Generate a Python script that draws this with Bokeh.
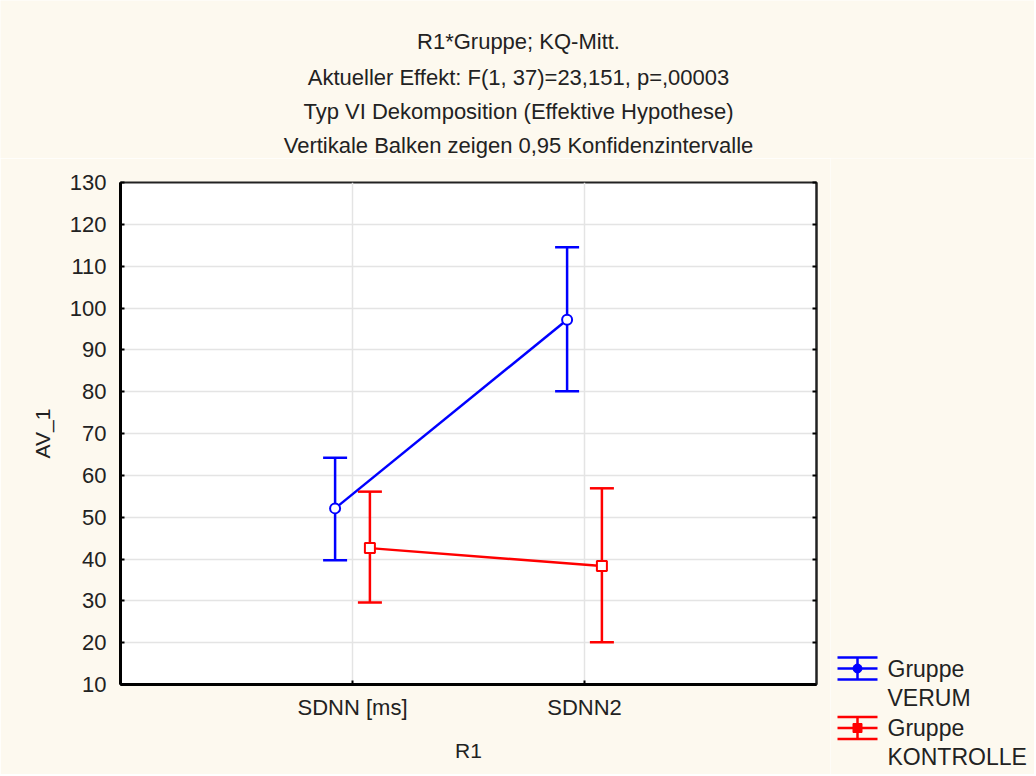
import numpy as np
from bokeh.plotting import figure
from bokeh.models import (ColumnDataSource, Range1d, FixedTicker, Whisker, TeeHead,
                          LinearAxis)
from bokeh.layouts import row, column
from bokeh.core.properties import value
from bokeh.embed import file_html
from bokeh.resources import INLINE

# ---- data ----
categories = ["SDNN [ms]", "SDNN2"]
verum_mean = [52.1, 97.2]
verum_lower = [39.7, 80.1]
verum_upper = [64.2, 114.5]
kontrolle_mean = [42.6, 38.3]
kontrolle_lower = [29.6, 20.1]
kontrolle_upper = [56.1, 56.9]
y_ticks = [10, 20, 30, 40, 50, 60, 70, 80, 90, 100, 110, 120, 130]
title_lines = [
    "R1*Gruppe; KQ-Mitt.",
    "Aktueller Effekt: F(1, 37)=23,151, p=,00003",
    "Typ VI Dekomposition (Effektive Hypothese)",
    "Vertikale Balken zeigen 0,95 Konfidenzintervalle",
]
legend_labels = [("Gruppe", "VERUM"), ("Gruppe", "KONTROLLE")]

# ---- style ----
FONT = "Liberation Sans"
BG = "#fdf9ef"
TXT = "#222222"
BLUE = "#0000ff"
RED = "#ff0000"
OFFSET = 0.075
TOP_H = 158
MAIN_H = 616

pos = np.arange(1, len(categories) + 1)

# ---- title strip ----
tf = figure(width=1034, height=TOP_H, output_backend="svg", toolbar_location=None,
            x_range=Range1d(0, 1034), y_range=Range1d(TOP_H, 0), min_border=0,
            min_border_left=0, min_border_right=0, min_border_top=0, min_border_bottom=0)
tf.axis.visible = False
tf.grid.visible = False
tf.outline_line_color = None
tf.background_fill_color = BG
tf.border_fill_color = BG
tf.frame_align = False
tf.text(x=[518] * 4, y=[41, 76.5, 110.5, 145], text=title_lines, text_font=value(FONT),
        text_font_size="22px", text_color=TXT, text_align="center",
        text_baseline="middle")

# ---- main plot ----
p = figure(width=830, height=MAIN_H, output_backend="svg", toolbar_location=None,
           x_range=Range1d(0, 3), y_range=Range1d(10, 130),
           min_border_left=120, min_border_right=14, min_border_top=24,
           min_border_bottom=MAIN_H - 24 - 502, x_axis_label="R1", y_axis_label="AV_1")
p.background_fill_color = "white"
p.border_fill_color = BG
p.outline_line_color = "#222222"
p.outline_line_width = 2
p.frame_align = False

for ax in (p.xaxis[0], p.yaxis[0]):
    ax.axis_line_width = 3
    ax.axis_line_color = "black"
    ax.major_tick_in = 4
    ax.major_tick_out = 0
    ax.major_tick_line_width = 2
    ax.minor_tick_line_color = None
    ax.major_label_text_font = FONT
    ax.major_label_text_font_size = "22px"
    ax.major_label_text_color = TXT
    ax.axis_label_text_font = FONT
    ax.axis_label_text_font_size = "21px"
    ax.axis_label_text_font_style = "normal"
    ax.axis_label_text_color = TXT

p.xaxis.ticker = FixedTicker(ticks=list(pos))
p.xaxis.major_label_overrides = {int(i): c for i, c in zip(pos, categories)}
p.xaxis.major_label_standoff = 10
p.xaxis.axis_label_standoff = 16
p.yaxis.ticker = FixedTicker(ticks=y_ticks)
p.yaxis.major_label_standoff = 14
p.yaxis.axis_label_standoff = 13

right = LinearAxis(ticker=FixedTicker(ticks=y_ticks),
                   major_label_overrides={t: "" for t in y_ticks},
                   major_label_standoff=0, major_tick_in=4, major_tick_out=0,
                   major_tick_line_width=2, minor_tick_line_color=None,
                   axis_line_width=2, axis_line_color="#222222")
p.add_layout(right, "right")

p.xgrid.grid_line_color = "#e4e4e4"
p.ygrid.grid_line_color = "#e4e4e4"
p.xgrid.grid_line_width = 1.5
p.ygrid.grid_line_width = 1.5

series = [
    (verum_mean, verum_lower, verum_upper, BLUE, -OFFSET, "circle"),
    (kontrolle_mean, kontrolle_lower, kontrolle_upper, RED, OFFSET, "square"),
]
for mean, lo, up, col, off, marker in series:
    src = ColumnDataSource(dict(x=pos + off, mean=mean, lower=lo, upper=up))
    p.line("x", "mean", source=src, line_color=col, line_width=2.5)
    w = Whisker(base="x", upper="upper", lower="lower", source=src, dimension="height",
                line_color=col, line_width=2.5,
                upper_head=TeeHead(size=24, line_color=col, line_width=2.5),
                lower_head=TeeHead(size=24, line_color=col, line_width=2.5))
    p.add_layout(w)
    p.scatter("x", "mean", source=src, marker=marker, size=10, line_color=col,
              line_width=2, fill_color="white")

# ---- legend strip ----
lg = figure(width=204, height=MAIN_H, output_backend="svg", toolbar_location=None,
            x_range=Range1d(0, 204), y_range=Range1d(MAIN_H, 0),
            min_border=0, min_border_left=0, min_border_right=0,
            min_border_top=0, min_border_bottom=0)
lg.axis.visible = False
lg.grid.visible = False
lg.outline_line_color = None
lg.background_fill_color = BG
lg.border_fill_color = BG
lg.frame_align = False

icon_mid = [510, 569.5]
colors = [BLUE, RED]
markers = ["circle", "square"]
for (l1, l2), ym, col, mk in zip(legend_labels, icon_mid, colors, markers):
    lg.segment(x0=[7, 7, 7, 27], y0=[ym - 11, ym, ym + 11, ym - 11],
               x1=[47, 47, 47, 27], y1=[ym - 11, ym, ym + 11, ym + 11],
               line_color=col, line_width=2.5)
    lg.scatter(x=[27], y=[ym], marker=mk, size=9, fill_color=col, line_color=col)
    lg.text(x=[57, 57], y=[ym, ym + 29], text=[l1, l2], text_font=value(FONT),
            text_font_size="23px", text_color=TXT, text_baseline="middle",
            text_align="left")

layout = column(tf, row(p, lg))
open("out.html", "w").write(file_html(layout, INLINE))
